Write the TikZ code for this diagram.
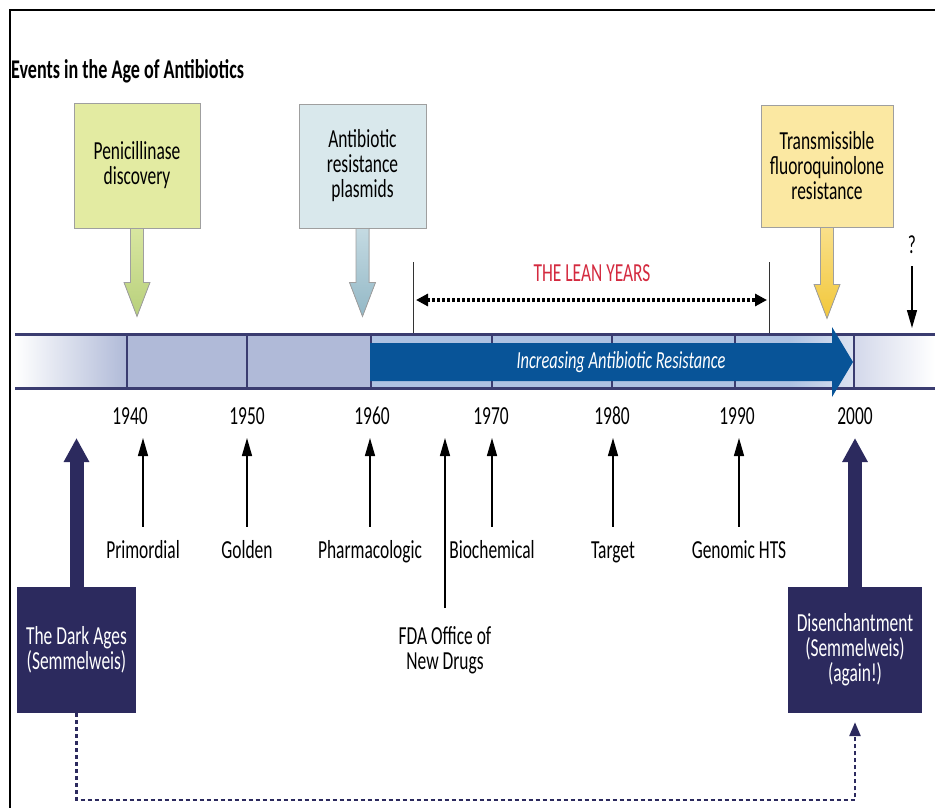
\documentclass[tikz,border=0pt]{standalone}
\usepackage{fontspec}
\setmainfont{Carlito}[FakeStretch=0.67]
\usetikzlibrary{arrows.meta}
\definecolor{navy}{HTML}{2C2A5E}
\definecolor{barline}{HTML}{3A3C70}
\definecolor{barfill}{HTML}{B0BAD8}
\definecolor{barblue}{HTML}{AEC2E2}
\definecolor{barlight}{HTML}{DCE3F1}
\definecolor{barend}{HTML}{D3D8EA}
\definecolor{resblue}{HTML}{085498}
\definecolor{penfill}{HTML}{E3EBA2}
\definecolor{penarrowA}{HTML}{D8E6A0}
\definecolor{penarrowB}{HTML}{B8D07C}
\definecolor{plafill}{HTML}{D9E8EC}
\definecolor{plaarrowA}{HTML}{C4DAE2}
\definecolor{plaarrowB}{HTML}{93B8C6}
\definecolor{trafill}{HTML}{FBE8A2}
\definecolor{traarrowA}{HTML}{F9E08A}
\definecolor{traarrowB}{HTML}{F2C73A}
\definecolor{leanred}{HTML}{D42A3F}
\newcommand\evarrow[4]{%
  \filldraw[draw=gray!75, line width=0.8pt, top color=#3, bottom color=#4]
    ([xshift=-6.5pt]#1.south) -- ++(0,#2) -- ++(-6.5,0) -- ++(13,34)
    -- ++(13,-34) -- ++(-6.5,0) -- ++(0,-#2) -- cycle;}
\begin{document}
\begin{tikzpicture}[x=1pt,y=-1pt,
  every node/.style={font=\fontsize{26}{25}\selectfont, inner sep=0pt},
  evbox/.style={draw=gray!75, line width=0.8pt, align=center},
  darkbox/.style={fill=navy, text=white, align=center, minimum height=126pt},
  era/.style={anchor=base, text height=17pt, text depth=5pt},
  yearlbl/.style={anchor=base},
  thinarrow/.style={line width=1.4pt, -{Triangle[length=18pt,width=10pt]}},
  bigarrow/.style={navy, line width=14pt, -{Triangle[length=24pt,width=24pt]}},
  divider/.style={barline, line width=1.6pt}]
\useasboundingbox (0,0) rectangle (935,808);
\fill[white] (0,0) rectangle (935,808);
% frame
\draw[line width=2pt] (10,808) -- (10,10) -- (935,10);
% title
\node[anchor=base west, font=\bfseries\fontsize{27}{27}\selectfont] (title) at (11,78) {Events in the Age of Antibiotics};

% event boxes
\node[evbox, fill=penfill, minimum width=126pt, minimum height=125pt] (pen) at (137,165.5) {Penicillinase\\discovery};
\node[evbox, fill=plafill, minimum width=127pt, minimum height=124pt] (pla) at (362.5,166) {Antibiotic\\resistance\\plasmids};
\node[evbox, fill=trafill, minimum width=132pt, minimum height=122pt] (tra) at (827,166) {Transmissible\\fluoroquinolone\\resistance};
\evarrow{pen}{54}{penarrowA}{penarrowB}
\evarrow{pla}{54}{plaarrowA}{plaarrowB}
\evarrow{tra}{57}{traarrowA}{traarrowB}

% question mark
\node (q) at (912,245) {?};
\coordinate (qtip) at (912,328);
\draw[thinarrow] ([yshift=-12pt]q.south) -- (qtip);

% lean years
\coordinate (lnA) at (413,262);
\coordinate (lnB) at (769,262);
\coordinate (bartop) at (0,333);
\draw[gray!40!black, line width=1pt] (lnA) -- (lnA |- bartop);
\draw[gray!40!black, line width=1pt] (lnB) -- (lnB |- bartop);
\coordinate (laL) at (416,300);
\coordinate (laR) at (767,300);
\draw[line width=3.2pt, dash pattern=on 2.7pt off 2.3pt,
  {Triangle[length=12pt,width=12pt]}-{Triangle[length=12pt,width=12pt]}] (laL) -- (laR);
\node[text=leanred] (lean) at (592,273) {THE LEAN YEARS};

% timeline bar
\shade[left color=white, right color=barfill] (15,335) rectangle (127,387);
\fill[barfill] (127,335) rectangle (370,387);
\fill[barblue] (370,335) rectangle (790,387);
\shade[left color=barblue, right color=barlight] (790,335) rectangle (854,387);
\shade[left color=barend, right color=white] (854,335) rectangle (935,387);
\draw[barline, line width=3pt] (15,334) -- (935,334);
\draw[barline, line width=3pt] (15,388) -- (935,388);
\foreach \xx in {127,247,371,492,612,735,854}
  \draw[divider] (\xx,335.5) -- (\xx,386.5);
% resistance arrow
\fill[resblue] (370,343) -- (832,343) -- (832,327) -- (853,362) -- (832,397) -- (832,381) -- (370,381) -- cycle;
\node[text=white, font=\itshape\fontsize{24.5}{24}\selectfont] (inc) at (621,362) {Increasing Antibiotic Resistance};

% years
\node[yearlbl] (y1940) at (130,424) {1940};
\node[yearlbl] (y1950) at (247,424) {1950};
\node[yearlbl] (y1960) at (372,424) {1960};
\node[yearlbl] (y1970) at (491,424) {1970};
\node[yearlbl] (y1980) at (612,424) {1980};
\node[yearlbl] (y1990) at (737,424) {1990};
\node[yearlbl] (y2000) at (855,424) {2000};

% eras
\coordinate (tips) at (0,438);
\node[era] (prim) at (143,558) {Primordial};
\node[era] (gold) at (247,558) {Golden};
\node[era] (pharm) at (370,558) {Pharmacologic};
\node[era] (bioc) at (492,558) {Biochemical};
\node[era] (targ) at (613,558) {Target};
\node[era] (geno) at (739,558) {Genomic HTS};
\node[anchor=north, align=center] (fda) at (445,626) {FDA Office of\\New Drugs};
\foreach \n in {prim,gold,pharm,bioc,targ,geno}
  \draw[thinarrow] ([yshift=14pt]\n.north) -- (\n.north |- tips);
\draw[thinarrow] ([yshift=18pt]fda.north) -- (fda.north |- tips);

% dark boxes
\node[darkbox, minimum width=119pt] (dark) at (76.5,650) {The Dark Ages\\(Semmelweis)};
\node[darkbox, minimum width=134pt] (dis) at (855,650) {Disenchantment\\(Semmelweis)\\(again!)};
\draw[bigarrow] (dark.north) -- (dark.north |- tips);
\draw[bigarrow] (dis.north) -- (dis.north |- tips);

% dashed return connector
\coordinate (bot) at (0,800);
\draw[navy, line width=2.6pt, dash pattern=on 4pt off 3pt, shorten >=9pt,
  -{Triangle[length=14pt,width=11pt]}]
  (dark.south) -- (dark.south |- bot) -- (dis.south |- bot) -- (dis.south);
\end{tikzpicture}
\end{document}
